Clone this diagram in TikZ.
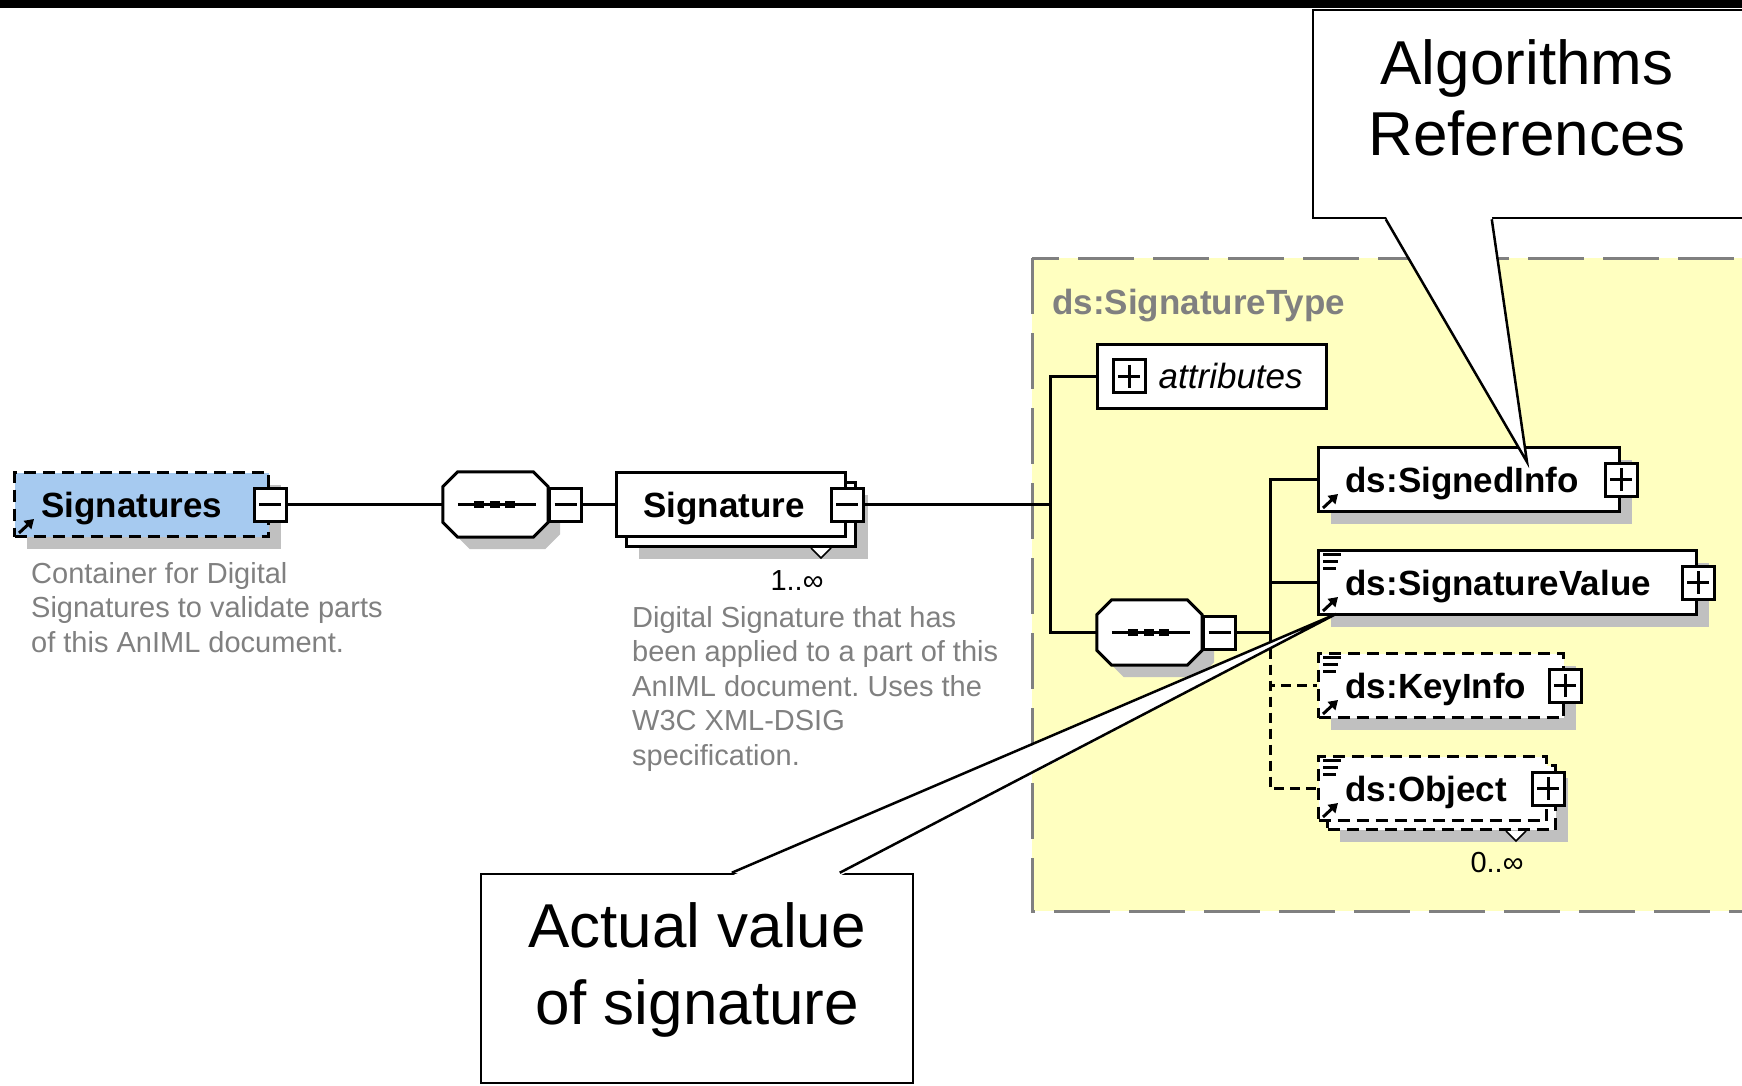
\documentclass[tikz,border=0pt]{standalone}
\usepackage{fontspec}
\setmainfont{Liberation Sans}
\frenchspacing
\usetikzlibrary{calc,arrows.meta,positioning,shadows}
\pgfdeclarelayer{bg}
\pgfsetlayers{bg,main}

\definecolor{sigblue}{HTML}{A6CAF0}
\definecolor{typeyellow}{HTML}{FFFFC0}
\definecolor{shadowgray}{HTML}{C0C0C0}
\definecolor{docgray}{HTML}{808080}

\begin{document}
\begin{tikzpicture}[x=1pt,y=-1pt,line width=3pt,
    boxshadow/.style={drop shadow={shadow xshift=12pt,shadow yshift=-12pt,fill=shadowgray,opacity=1}},
    elem/.style={draw,fill=white,line width=3pt,inner xsep=27pt,inner ysep=0pt,text width=#1,align=left,
      minimum height=64pt,text height=25pt,text depth=0pt,font=\fontsize{35}{40}\selectfont\bfseries},
    optelem/.style={elem=#1,dash pattern=on 12pt off 7pt},
    togglebox/.style={draw,fill=white,line width=3pt,minimum width=32pt,minimum height=33pt,inner sep=0pt},
    minusbox/.style={togglebox,path picture={
        \draw[line width=3pt] ([xshift=5pt]path picture bounding box.west) -- ([xshift=-5pt]path picture bounding box.east);}},
    plusbox/.style={togglebox,path picture={
        \draw[line width=3pt] ([xshift=5pt]path picture bounding box.west) -- ([xshift=-5pt]path picture bounding box.east)
          ([yshift=-5pt]path picture bounding box.north) -- ([yshift=5pt]path picture bounding box.south);}},
    seqbox/.style={minimum width=105pt,minimum height=65pt,inner sep=0pt},
    docnote/.style={anchor=north west,align=left,inner sep=0pt,text=docgray,font=\fontsize{29}{34.5}\selectfont},
    cardnote/.style={inner sep=0pt,font=\fontsize{29}{34}\selectfont},
    notebox/.style={draw,fill=white,line width=2.5pt,inner sep=0pt},
    notetext/.style={align=center,inner sep=0pt,font=\fontsize{62}{#1}\selectfont},
    reflink/.style={line width=3pt,-{Triangle[length=9pt,width=11pt]}},
    link/.style={line width=3pt},
    optlink/.style={link,dash pattern=on 10pt off 6pt},
  ]

  \useasboundingbox (0,0) rectangle (1742,1086);

  % small icons in the element boxes
  \newcommand\linkicon[1]{\draw[reflink] ([xshift=6pt,yshift=5pt]#1.south west) -- ++(15,-14);}
  \newcommand\valueicon[1]{\draw[line width=3pt] ([xshift=6pt,yshift=-5pt]#1.north west) -- ++(18,0)
      ([xshift=6pt,yshift=-12pt]#1.north west) -- ++(15,0) ([xshift=6pt,yshift=-19pt]#1.north west) -- ++(13,0);}
  % octagon of a sequence compositor, drawn round a named seqbox node
  \newcommand\seqshape[1]{%
    \filldraw[fill=white,line width=3pt,boxshadow] ([xshift=15pt]#1.north west) -- ([xshift=-15pt]#1.north east)
      -- ([yshift=-15pt]#1.north east) -- ([yshift=15pt]#1.south east) -- ([xshift=-15pt]#1.south east)
      -- ([xshift=15pt]#1.south west) -- ([yshift=15pt]#1.south west) -- ([yshift=-15pt]#1.north west) -- cycle;
    \draw[line width=3pt] ([xshift=15pt]#1.west) -- ([xshift=-12pt]#1.east);
    \foreach \dotx in {-17,-1,14}
      \fill[black] ([xshift=\dotx pt]#1.center) +(-5,-3.5) rectangle +(5,3.5);}

  %% Top bar of the window
  \fill[black] (0,0) rectangle (1742,8);

  %% Complex type area
  \begin{pgfonlayer}{bg}
    \draw[docgray,fill=typeyellow,line width=3pt,dash pattern=on 56pt off 19pt] (1032,258) rectangle (1780,911);
  \end{pgfonlayer}
  \node[anchor=north west,inner sep=0pt,text=docgray,font=\fontsize{35}{40}\selectfont\bfseries] (typeName) at (1052,289) {ds:SignatureType};

  %% Root element and its sequence
  \node[elem=200pt,fill=sigblue,dash pattern=on 12pt off 7pt,boxshadow,anchor=west] (sigs) at (13,504.5) {Signatures};
  \node[minusbox] (sigsToggle) at (sigs.east) {};
  \linkicon{sigs}
  \node[docnote] (sigsDoc) at (31,562) {Container for Digital\\Signatures to validate parts\\of this AnIML document.};

  \node[seqbox] (seqOuter) at (495.5,504.5) {};
  \seqshape{seqOuter}
  \node[minusbox,right=0pt of seqOuter] (seqOuterToggle) {};

  %% Signature, 1..unbounded
  \node[elem=175pt,boxshadow,anchor=west] (sigBack) at (625,514.5) {};
  \draw[line width=1.5pt,fill=white] ([xshift=-46pt]sigBack.south east) -- ++(10,10) -- ++(10,-10);
  \node[elem=175pt,anchor=west] (sig) at (615,504.5) {Signature};
  \node[minusbox] (sigToggle) at (sig.east) {};
  \node[cardnote] (sigCard) at (797,581) {1..∞};
  \node[docnote] (sigDoc) at (632,606) {Digital Signature that has\\been applied to a part of this\\AnIML document. Uses the\\W3C XML-DSIG\\specification.};

  %% Content of ds:SignatureType
  \node[draw,fill=white,line width=3pt,minimum width=229pt,minimum height=64pt,inner sep=0pt] (attrs) at (1211.5,376) {};
  \node[plusbox,right=16pt of attrs.west] (attrsToggle) {};
  \node[inner sep=0pt,right=63pt of attrs.west,font=\fontsize{35}{40}\selectfont\itshape] (attrsLabel) {attributes};

  \node[seqbox] (seqInner) at (1149.5,632.5) {};
  \seqshape{seqInner}
  \node[minusbox,right=0pt of seqInner] (seqInnerToggle) {};

  \node[elem=247pt,boxshadow,anchor=west] (signedInfo) at (1317,479.5) {ds:SignedInfo};
  \node[plusbox] (signedInfoToggle) at (signedInfo.east) {};
  \linkicon{signedInfo}

  \node[elem=324pt,boxshadow,anchor=west] (sigValue) at (1317,582.5) {ds:SignatureValue};
  \node[plusbox] (sigValueToggle) at (sigValue.east) {};
  \valueicon{sigValue}
  \linkicon{sigValue}

  \node[optelem=191pt,boxshadow,anchor=west] (keyInfo) at (1317,685.5) {ds:KeyInfo};
  \node[plusbox] (keyInfoToggle) at (keyInfo.east) {};
  \valueicon{keyInfo}
  \linkicon{keyInfo}

  \node[optelem=174pt,boxshadow,anchor=west] (objBack) at (1326,797.5) {};
  \draw[line width=1.5pt,fill=white] ([xshift=-51pt]objBack.south east) -- ++(10,10) -- ++(10,-10);
  \node[optelem=174pt,anchor=west] (object) at (1317,788.5) {ds:Object};
  \node[plusbox] (objectToggle) at (object.east) {};
  \valueicon{object}
  \linkicon{object}
  \node[cardnote] (objCard) at (1497,863) {0..∞};

  %% Connectors
  \coordinate (outerFork) at (1050,504.5);
  \coordinate (innerFork) at (1270,632.5);
  \draw[link] (sigsToggle.east) -- (seqOuter.west);
  \draw[link] (seqOuterToggle.east) -- (sig.west);
  \draw[link] (sigToggle.east) -- (outerFork);
  \draw[link] (attrs.west) -| (outerFork) |- (seqInner.west);
  \draw[link] (seqInnerToggle.east) -- (innerFork);
  \draw[link] (signedInfo.west) -| (innerFork);
  \draw[link] (sigValue.west) -| (innerFork);
  \draw[optlink] (innerFork) |- (keyInfo.west);
  \draw[optlink] (innerFork) |- (object.west);

  %% Callouts
  \node[notebox,minimum width=437pt,minimum height=208pt] (algoNote) at (1531.5,114) {};
  \node[notetext=71pt] (algoText) at (1527,97.5) {Algorithms\\References};
  \coordinate (algoTip) at (1527,462);
  \fill[white] ([xshift=74pt,yshift=3pt]algoNote.south west) -- (algoTip) -- ([xshift=180pt,yshift=3pt]algoNote.south west) -- cycle;
  \draw[line width=2.5pt] ([xshift=74pt]algoNote.south west) -- (algoTip) -- ([xshift=180pt]algoNote.south west);

  \node[notebox,minimum width=432pt,minimum height=209pt] (valueNote) at (697,978.5) {};
  \node[notetext=77pt] (valueText) at (697,969.5) {Actual value\\of signature};
  \coordinate (valueTip) at (1336,614);
  \fill[white] ([xshift=252pt,yshift=-3pt]valueNote.north west) -- (valueTip) -- ([xshift=360pt,yshift=-3pt]valueNote.north west) -- cycle;
  \draw[line width=2.5pt] ([xshift=252pt]valueNote.north west) -- (valueTip) -- ([xshift=360pt]valueNote.north west);

\end{tikzpicture}
\end{document}
